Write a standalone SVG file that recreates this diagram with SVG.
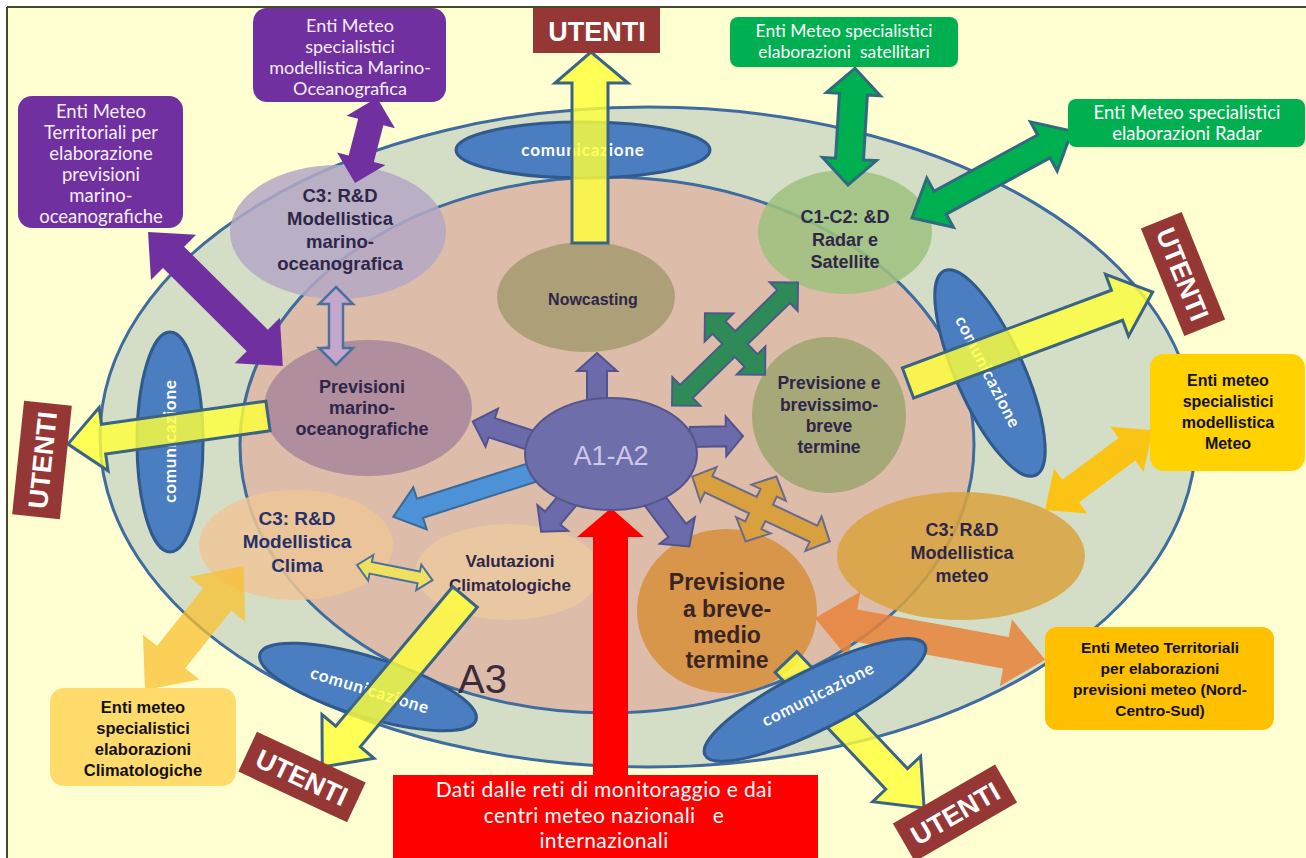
<svg xmlns="http://www.w3.org/2000/svg" width="1306" height="858" viewBox="0 0 1306 858">
<style>
.bgell{stroke:#3F6C9E;stroke-width:3}
.com{fill:#4A7EC1;stroke:#30598C;stroke-width:3}
.comt{font-family:Lato,"Liberation Sans",sans-serif;font-weight:bold;font-size:17px;fill:#ffffff;text-anchor:middle;letter-spacing:0.8px}
.nt{font-family:"Liberation Sans",Arial,sans-serif;font-weight:bold;fill:#2E2648;text-anchor:middle}
.nd{fill-opacity:0.85}
.ut rect{fill:#953735}
.ut text{font-family:"Liberation Sans",Arial,sans-serif;font-weight:bold;font-size:27px;fill:#ffffff;text-anchor:middle}
.bw{font-family:Lato,"Liberation Sans",sans-serif;fill:#F4EEFA;text-anchor:middle}
.bb{font-family:"Liberation Sans",Arial,sans-serif;font-weight:bold;fill:#111111;text-anchor:middle}
.yel{fill:#FFFF3A;fill-opacity:0.82;stroke:#3A6485;stroke-width:3;stroke-linejoin:miter}
.blu{fill:#6B6BAB;stroke:#52528C;stroke-width:2}
.pur{fill:#7030A0}
.grn{fill:#00B050;stroke:#2F6A7E;stroke-width:3}
</style>
<rect x="0" y="0" width="1306" height="858" fill="#ffffff"/>
<rect x="7" y="7" width="1299" height="851" fill="#FFFFD2"/>
<line x1="7" y1="7" x2="1306" y2="7" stroke="#4A4A22" stroke-width="2"/>
<line x1="7" y1="7" x2="7" y2="858" stroke="#4A4A22" stroke-width="2"/>

<g id="outer-ring"><ellipse cx="648" cy="437" rx="548" ry="330" fill="#D4DEC6" class="bgell"/></g>
<g id="inner-ring"><ellipse cx="607" cy="445" rx="367" ry="268" fill="#DDBCA9" class="bgell"/></g>

<g id="com-top"><ellipse cx="583" cy="150" rx="127" ry="28" class="com"/><text class="comt" x="583" y="156">comunicazione</text></g>
<g id="com-left"><ellipse cx="170" cy="442" rx="33" ry="110" class="com"/><text class="comt" transform="translate(170,441) rotate(-90)" x="0" y="6">comunicazione</text></g>
<g id="com-right"><ellipse cx="990" cy="373" rx="112" ry="34" class="com" transform="rotate(66 990 373)"/><text class="comt" transform="translate(988,372) rotate(63)" x="0" y="6">comunicazione</text></g>
<g id="com-bottomleft"><ellipse cx="368" cy="687" rx="113" ry="30" class="com" transform="rotate(17 368 687)"/><text class="comt" transform="translate(370,690) rotate(17)" x="0" y="6">comunicazione</text></g>

<g id="n-c3-marino"><ellipse class="nd" cx="338" cy="232" rx="108" ry="67" fill="#B4A8C4"/>
<text class="nt" font-size="18.5"><tspan x="340" y="202">C3: R&amp;D</tspan><tspan x="340" y="225">Modellistica</tspan><tspan x="340" y="248">marino-</tspan><tspan x="340" y="270">oceanografica</tspan></text></g>
<g id="n-prev-marino"><ellipse class="nd" cx="368" cy="408" rx="104" ry="68" fill="#A8869C"/>
<text class="nt" font-size="18"><tspan x="362" y="393">Previsioni</tspan><tspan x="362" y="414">marino-</tspan><tspan x="362" y="435">oceanografiche</tspan></text></g>
<g id="n-nowcasting"><ellipse class="nd" cx="586" cy="297" rx="89" ry="55" fill="#A59B70"/>
<text class="nt" font-size="16" x="593" y="305">Nowcasting</text></g>
<g id="n-c1c2"><ellipse class="nd" cx="845" cy="232" rx="87" ry="62" fill="#9CC27C"/>
<text class="nt" font-size="18"><tspan x="845" y="223">C1-C2: &amp;D</tspan><tspan x="845" y="246">Radar e</tspan><tspan x="845" y="268">Satellite</tspan></text></g>
<g id="n-brevissimo"><ellipse class="nd" cx="829" cy="415" rx="77" ry="78" fill="#9DA46F"/>
<text class="nt" font-size="17.5"><tspan x="829" y="389">Previsione e</tspan><tspan x="829" y="411">brevissimo-</tspan><tspan x="829" y="432">breve</tspan><tspan x="829" y="453">termine</tspan></text></g>
<g id="n-c3-clima"><ellipse class="nd" cx="296" cy="545" rx="97" ry="55" fill="#EDC797"/>
<text class="nt" font-size="19" style="fill:#26306A"><tspan x="297" y="525">C3: R&amp;D</tspan><tspan x="297" y="548">Modellistica</tspan><tspan x="297" y="572">Clima</tspan></text></g>
<g id="n-valutazioni"><ellipse class="nd" cx="508" cy="572" rx="93" ry="48" fill="#EAC9A0"/>
<text class="nt" font-size="17"><tspan x="510" y="567">Valutazioni</tspan><tspan x="510" y="591">Climatologiche</tspan></text></g>
<g id="n-breve-medio"><ellipse class="nd" cx="727" cy="611" rx="90" ry="82" fill="#D68F3A"/>
<text class="nt" font-size="23" style="fill:#3A2424"><tspan x="727" y="590">Previsione</tspan><tspan x="727" y="617">a breve-</tspan><tspan x="727" y="643">medio</tspan><tspan x="727" y="668">termine</tspan></text></g>
<g id="n-c3-meteo"><ellipse class="nd" cx="961" cy="556" rx="124" ry="64" fill="#D9A33E"/>
<text class="nt" font-size="18"><tspan x="962" y="536">C3: R&amp;D</tspan><tspan x="962" y="559">Modellistica</tspan><tspan x="962" y="582">meteo</tspan></text></g>

<g id="connectors">
<polygon class="yel" points="572,243 572,83 555,83 591,52 628,83 608,83 608,243"/>
<polygon class="yel" transform="translate(268,416) rotate(172)" points="0,-15 166,-15 166,-32 202,0 166,32 166,15 0,15"/>
<polygon class="yel" transform="translate(908,383) rotate(-20.4)" points="0,-16 223,-16 223,-33 261,0 223,33 223,16 0,16"/>
<polygon class="yel" transform="translate(465,597) rotate(130)" points="0,-16 182,-16 182,-34 222,0 182,34 182,16 0,16"/>
<polygon class="yel" transform="translate(786,662) rotate(46.6)" points="0,-15 161,-15 161,-33 201,0 161,33 161,15 0,15"/>
<polygon class="pur" transform="translate(355,183) rotate(-75.5)" points="0,0 25,-25 25,-13 63,-13 63,-25 88,0 63,25 63,13 25,13 25,25"/>
<polygon class="pur" transform="translate(148,232) rotate(44.8)" points="0,0 36,-32 36,-15 154,-15 154,-32 190,0 154,32 154,15 36,15 36,32"/>
<polygon fill="#C4A8CC" stroke="#4A70A0" stroke-width="2.5" transform="translate(336,287) rotate(90)" points="0,0 17,-17 17,-7 61,-7 61,-17 78,0 61,17 61,7 17,7 17,17"/>
<polygon class="blu" transform="translate(597,405) rotate(-90)" points="0,-10 34,-10 34,-20 52,0 34,20 34,10 0,10"/>
<polygon class="blu" transform="translate(545,445) rotate(198)" points="0,-10 56,-10 56,-20 76,0 56,20 56,10 0,10"/>
<polygon class="blu" transform="translate(690,437) rotate(-1)" points="0,-10 36,-10 36,-20 53,0 36,20 36,10 0,10"/>
<polygon class="blu" transform="translate(572,495) rotate(130)" points="0,-10 30,-10 30,-20 48,0 30,20 30,10 0,10"/>
<polygon class="blu" transform="translate(652,497) rotate(53)" points="0,-11 42,-11 42,-22 62,0 42,22 42,11 0,11"/>
<polygon fill="#4D92D6" stroke="#3A6A9A" stroke-width="2" transform="translate(540,470) rotate(162.3)" points="0,-10 126,-10 126,-22 154,0 126,22 126,10 0,10"/>
<polygon fill="#2E8B57" stroke="#4A5A8A" stroke-width="2" transform="translate(735,344) rotate(-44.3)" points="-88,0 -68,-20 -68,-9 -9,-9 -9,-23 -20,-23 0,-43 20,-23 9,-23 9,-9 68,-9 68,-20 88,0 68,20 68,9 9,9 9,23 20,23 0,43 -20,23 -9,23 -9,9 -68,9 -68,20"/>
<polygon fill="#D9A040" stroke="#6A6A8A" stroke-width="2" transform="translate(761,509) rotate(25.2)" points="-76,0 -58,-19 -58,-9 -9,-9 -9,-18 -19,-18 0,-36 19,-18 9,-18 9,-9 58,-9 58,-19 76,0 58,19 58,9 9,9 9,18 19,18 0,36 -19,18 -9,18 -9,9 -58,9 -58,19"/>
<polygon class="grn" transform="translate(848,185) rotate(-86.6)" points="0,0 26,-27 26,-14 91,-14 91,-27 117,0 91,27 91,14 26,14 26,27"/>
<polygon class="grn" transform="translate(912,218) rotate(-28.5)" points="0,0 32,-28 32,-13 150,-13 150,-28 182,0 150,28 150,13 32,13 32,28"/>
<polygon fill="#FFC000" fill-opacity="0.9" transform="translate(1045,510) rotate(-36.5)" points="0,0 32,-28 32,-14 102,-14 102,-28 134,0 102,28 102,14 32,14 32,28"/>
<polygon fill="#E8823A" fill-opacity="0.85" transform="translate(815,618) rotate(10.3)" points="0,0 40,-34 40,-16 194,-16 194,-34 234,0 194,34 194,16 40,16 40,34"/>
<polygon fill="#F8C030" fill-opacity="0.75" transform="translate(145,690) rotate(-51.5)" points="0,0 42,-36 42,-18 116,-18 116,-36 158,0 116,36 116,18 42,18 42,36"/>
<polygon fill="#F0E060" stroke="#4A70A0" stroke-width="2" transform="translate(357,565) rotate(11.3)" points="0,0 14,-13 14,-6 63,-6 63,-13 77,0 63,13 63,6 14,6 14,13"/>
<polygon fill="#FF0000" points="593,776 593,537 577,537 611,508 644,537 628,537 628,776"/>
</g>

<g id="n-a1a2"><ellipse cx="611" cy="454" rx="86" ry="56" fill="#6E6EAA" stroke="#55558E" stroke-width="2"/>
<text x="611" y="465" font-family="'Liberation Sans',Arial,sans-serif" font-size="27" fill="#D0C8E8" text-anchor="middle">A1-A2</text></g>

<g id="com-bottomright"><ellipse cx="815" cy="700" rx="123" ry="30" class="com" transform="rotate(-26.6 815 700)"/><text class="comt" transform="translate(818,694) rotate(-26.6)" x="0" y="6">comunicazione</text></g>

<text x="458" y="693" font-family="'Liberation Sans',Arial,sans-serif" font-size="40" fill="#3B2B3B">A3</text>

<g id="b-purple-top"><rect x="253" y="8" width="193" height="94" rx="14" fill="#7030A0"/>
<text class="bw" font-size="18"><tspan x="350" y="32">Enti Meteo</tspan><tspan x="350" y="53">specialistici</tspan><tspan x="350" y="74">modellistica Marino-</tspan><tspan x="350" y="95">Oceanografica</tspan></text></g>
<g id="b-purple-left"><rect x="18" y="96" width="165" height="132" rx="14" fill="#7030A0"/>
<text class="bw" font-size="18.5"><tspan x="101" y="118">Enti Meteo</tspan><tspan x="101" y="139">Territoriali per</tspan><tspan x="101" y="160">elaborazione</tspan><tspan x="101" y="181">previsioni</tspan><tspan x="101" y="202">marino-</tspan><tspan x="101" y="223">oceanografiche</tspan></text></g>
<g id="b-green-top"><rect x="730" y="17" width="228" height="50" rx="8" fill="#00B050"/>
<text class="bw" font-size="17.5" style="fill:#fff"><tspan x="844" y="37">Enti Meteo specialistici</tspan><tspan x="844" y="58" xml:space="preserve">elaborazioni  satellitari</tspan></text></g>
<g id="b-green-right"><rect x="1068" y="99" width="237" height="48" rx="8" fill="#00B050"/>
<text class="bw" font-size="18.5" style="fill:#fff"><tspan x="1187" y="119">Enti Meteo specialistici</tspan><tspan x="1187" y="140">elaborazioni Radar</tspan></text></g>
<g id="b-yellow-right"><rect x="1150" y="354" width="155" height="117" rx="14" fill="#FFD200"/>
<text class="bb" font-size="16"><tspan x="1228" y="386">Enti meteo</tspan><tspan x="1228" y="407">specialistici</tspan><tspan x="1228" y="428">modellistica</tspan><tspan x="1228" y="449">Meteo</tspan></text></g>
<g id="b-orange-right"><rect x="1045" y="627" width="229" height="103" rx="12" fill="#FFC000"/>
<text class="bb" font-size="15.5"><tspan x="1160" y="653">Enti Meteo Territoriali</tspan><tspan x="1160" y="674">per elaborazioni</tspan><tspan x="1160" y="695">previsioni meteo (Nord-</tspan><tspan x="1160" y="716">Centro-Sud)</tspan></text></g>
<g id="b-clima"><rect x="50" y="688" width="186" height="98" rx="14" fill="#FFD966" fill-opacity="0.95"/>
<text class="bb" font-size="16.5"><tspan x="143" y="713">Enti meteo</tspan><tspan x="143" y="734">specialistici</tspan><tspan x="143" y="755">elaborazioni</tspan><tspan x="143" y="776">Climatologiche</tspan></text></g>
<g id="b-dati"><rect x="393" y="775" width="425" height="83" fill="#FF0000"/>
<text class="bw" font-size="21" style="fill:#fff;letter-spacing:0.4px"><tspan x="604" y="797">Dati dalle reti di monitoraggio e dai</tspan><tspan x="604" y="822.5" xml:space="preserve">centri meteo nazionali   e</tspan><tspan x="604" y="848">internazionali</tspan></text></g>

<g id="u-top" class="ut"><rect x="533" y="8" width="127" height="45"/><text x="597" y="41">UTENTI</text></g>
<g id="u-right" class="ut" transform="translate(1183,274) rotate(68)"><rect x="-58" y="-22" width="116" height="44"/><text x="0" y="10">UTENTI</text></g>
<g id="u-left" class="ut" transform="translate(42,460) rotate(-84)"><rect x="-57" y="-24" width="114" height="48"/><text x="0" y="10">UTENTI</text></g>
<g id="u-bottomleft" class="ut" transform="translate(302,777) rotate(25)"><rect x="-60" y="-22" width="120" height="44"/><text x="0" y="10">UTENTI</text></g>
<g id="u-bottomright" class="ut" transform="translate(955,813) rotate(-30)"><rect x="-59" y="-22" width="118" height="44"/><text x="0" y="10">UTENTI</text></g>
</svg>
